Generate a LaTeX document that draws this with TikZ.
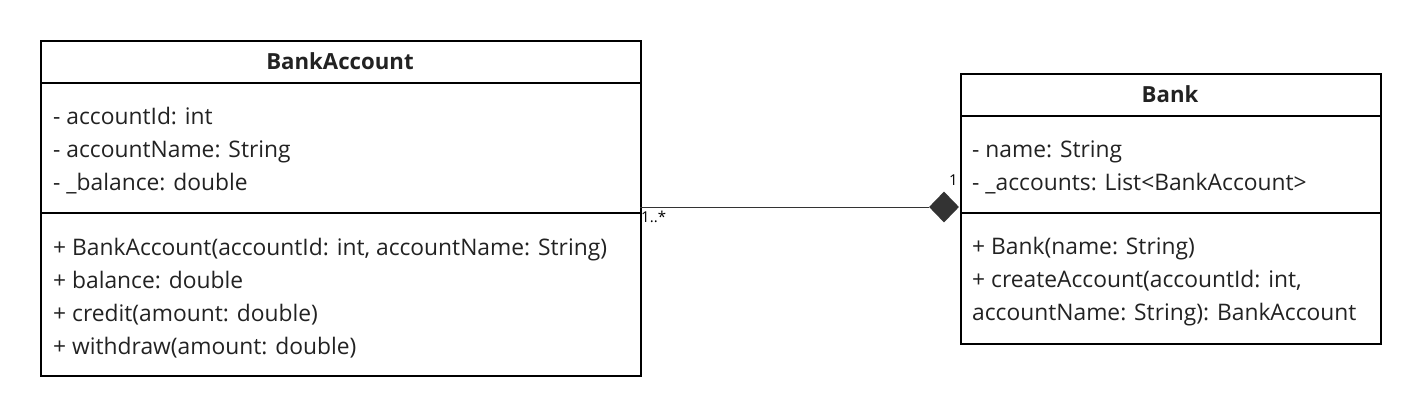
\documentclass[tikz,border=0pt]{standalone}
\usepackage{fontspec}
\setmainfont{Open Sans}
\usetikzlibrary{shapes.geometric}
\definecolor{ink}{HTML}{222222}
\definecolor{dia}{HTML}{333333}
\begin{document}
\begin{tikzpicture}[x=1pt,y=1pt,
  classbox/.style={draw=black,line width=1.6pt,minimum width=#1,anchor=north west,inner sep=0pt},
  member/.style={anchor=base west,inner sep=0pt,text=ink,font=\fontsize{22.8}{26}\selectfont},
  title/.style={anchor=base,inner sep=0pt,text=ink,font=\fontsize{22.2}{26}\selectfont\bfseries},
  mult/.style={inner sep=0pt,text=black,font=\fontsize{15}{17}\selectfont}]
\useasboundingbox (0,0) rectangle (1420,-415);
% BankAccount
\node[classbox=600pt,minimum height=335pt] (ba) at (40,-40) {};
\draw[line width=1.6pt] (40,-83) -- (640,-83);
\draw[line width=1.6pt] (40,-213) -- (640,-213);
\node[title] (batitle) at (340,-69.5) {BankAccount};
\node[member] (ba1) at (53,-124) {- accountId: int};
\node[member] (ba2) at (53,-157) {- accountName: String};
\node[member] (ba3) at (53,-190) {- \_balance: double};
\node[member] (ba4) at (53,-255) {+ BankAccount(accountId: int, accountName: String)};
\node[member] (ba5) at (53,-288) {+ balance: double};
\node[member] (ba6) at (53,-321) {+ credit(amount: double)};
\node[member] (ba7) at (53,-354) {+ withdraw(amount: double)};
% Bank
\node[classbox=420pt,minimum height=270pt] (bk) at (960,-73) {};
\draw[line width=1.6pt] (960,-116) -- (1380,-116);
\draw[line width=1.6pt] (960,-213) -- (1380,-213);
\node[title] (bktitle) at (1170,-102.5) {Bank};
\node[member] (bk1) at (972,-157) {- name: String};
\node[member] (bk2) at (972,-190) {- \_accounts: List<BankAccount>};
\node[member] (bk3) at (972,-254) {+ Bank(name: String)};
\node[member] (bk4) at (972,-287) {+ createAccount(accountId: int,};
\node[member] (bk5) at (972,-320) {accountName: String): BankAccount};
% connector
\node[diamond,fill=dia,inner sep=0pt,minimum width=30pt,minimum height=31pt] (dm) at (944,-207) {};
\coordinate (cs) at (640,-207);
\draw[line width=0.9pt,draw=dia] (cs) -- (dm.west);
\node[mult,anchor=north west] (m1) at (641,-211) {1..*};
\node[mult,anchor=south east] (m2) at (958,-186) {1};
\end{tikzpicture}
\end{document}
